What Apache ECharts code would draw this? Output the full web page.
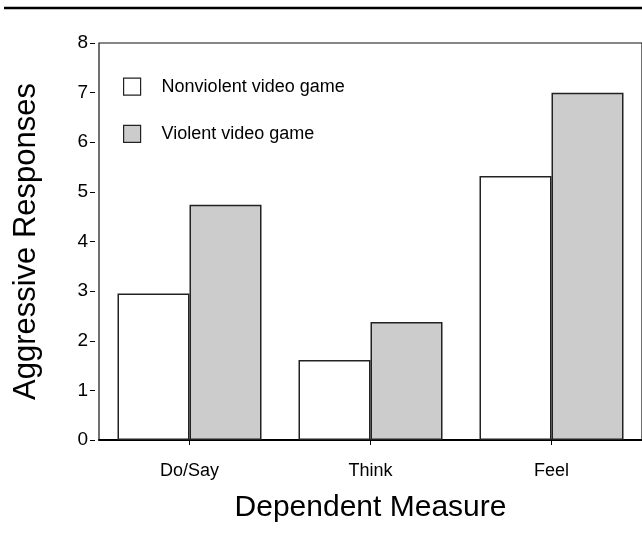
<!DOCTYPE html>
<html>
<head>
<meta charset="utf-8">
<script src="https://cdn.jsdelivr.net/npm/echarts@6/dist/echarts.min.js"></script>
<style>
  html, body { margin: 0; padding: 0; background: #fff; }
  #chart { width: 642px; height: 535px; }
</style>
</head>
<body>
<div id="chart"></div>
<script>
const categories = ['Do/Say', 'Think', 'Feel'];
const nonviolent = [2.95, 1.61, 5.32];
const violent = [4.74, 2.38, 7.0];
const seriesNames = ['Nonviolent video game', 'Violent video game'];
const yTicks = [0, 1, 2, 3, 4, 5, 6, 7, 8];
const xTitle = 'Dependent Measure';
const yTitle = 'Aggressive Responses';

const FONT = '"Liberation Sans", Arial, Helvetica, sans-serif';
const chart = echarts.init(document.getElementById('chart'), null, { renderer: 'canvas' });

chart.setOption({
  animation: false,
  backgroundColor: '#fff',
  textStyle: { fontFamily: FONT, color: '#000' },
  graphic: [{
    type: 'line',
    shape: { x1: 4, y1: 8, x2: 642, y2: 8 },
    style: { stroke: '#000', lineWidth: 2.5 }
  }],
  grid: {
    left: 99, top: 43, bottom: 95, right: -1.5,
    show: true, borderColor: '#111', borderWidth: 1.2, backgroundColor: 'transparent'
  },
  legend: {
    left: 123, top: 77.5, orient: 'vertical', padding: 0,
    itemWidth: 17, itemHeight: 17, itemGap: 29,
    icon: 'rect',
    textStyle: { fontFamily: FONT, fontSize: 18, color: '#000', padding: [0, 0, 0, 16] },
    data: seriesNames.map((n, i) => ({
      name: n,
      itemStyle: { color: i === 0 ? '#fff' : '#ccc', borderColor: '#222', borderWidth: 1.2 }
    }))
  },
  xAxis: [{
    type: 'category', data: categories, offset: 2,
    axisLine: { show: false },
    axisTick: { show: true, alignWithLabel: true, length: 5, lineStyle: { color: '#000', width: 1 } },
    axisLabel: { fontFamily: FONT, fontSize: 18, color: '#000', margin: 20 },
    name: xTitle, nameLocation: 'middle', nameGap: 51,
    nameTextStyle: { fontFamily: FONT, fontSize: 30, color: '#000' }
  }, {
    type: 'category', data: categories, position: 'bottom',
    axisLine: { show: true, lineStyle: { color: '#000', width: 2 } },
    axisTick: { show: false }, axisLabel: { show: false }
  }],
  yAxis: {
    type: 'value', min: 0, max: 8, interval: 1, offset: 4,
    axisLine: { show: false },
    splitLine: { show: false },
    axisTick: { show: true, length: 5, lineStyle: { color: '#000', width: 1 } },
    axisLabel: { fontFamily: FONT, fontSize: 19, color: '#000', margin: 7,
      formatter: v => (yTicks.indexOf(v) >= 0 ? String(v) : '') },
    name: yTitle, nameLocation: 'middle', nameGap: 53,
    nameTextStyle: { fontFamily: FONT, fontSize: 31, color: '#000' }
  },
  series: [{
    name: seriesNames[0], type: 'bar', data: nonviolent,
    barWidth: 72, barGap: '0%',
    itemStyle: { color: '#fff', borderColor: '#222', borderWidth: 1.5 }
  }, {
    name: seriesNames[1], type: 'bar', data: violent,
    barWidth: 72, barGap: '0%',
    itemStyle: { color: '#ccc', borderColor: '#222', borderWidth: 1.5 }
  }]
});
</script>
</body>
</html>
